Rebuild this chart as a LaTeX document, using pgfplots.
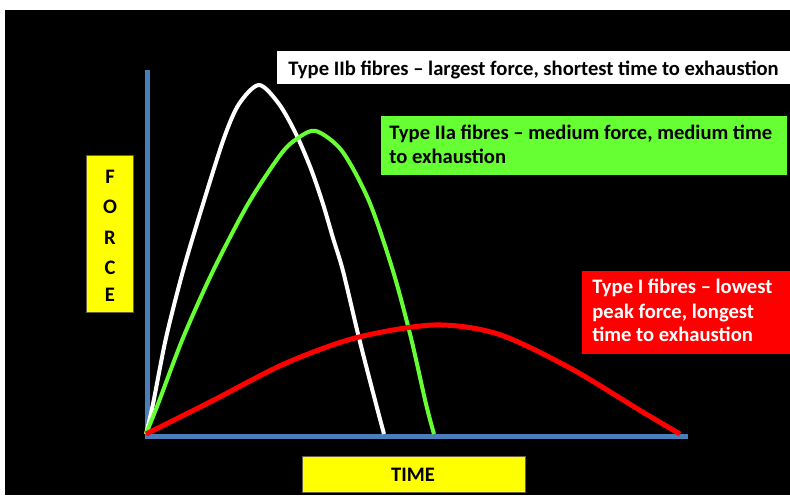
\documentclass[border=0pt]{standalone}
\usepackage{pgfplots}
\pgfplotsset{compat=1.18}
\usepackage{fontspec}
\setmainfont{Carlito}[BoldFont={Carlito Bold}]
\definecolor{axblue}{HTML}{4A7EBB}
\definecolor{fgreen}{HTML}{66FF33}
\definecolor{fred}{HTML}{FF0000}
\definecolor{fyellow}{HTML}{FFFF00}
\tikzset{lbl/.style={font=\fontsize{10.3}{12}\selectfont\bfseries, inner sep=0pt}}
\begin{document}
\begin{tikzpicture}
\begin{axis}[
  scale only axis, width=395pt, height=247.5pt,
  xmin=-146, xmax=644, ymin=-61, ymax=434,
  hide axis, clip=false,
]
% page and background
\fill[white] (axis cs:-146,434) rectangle (axis cs:644,-61);
\fill[black] (axis cs:-141,424) rectangle (axis cs:644,-61);
% axes lines
\addplot[axblue, line width=2.5pt] coordinates {(1,364) (1,-2)};
\addplot[axblue, line width=2.5pt] coordinates {(-1,-2) (542,-2)};
% Type IIb (white)
\addplot[white, line width=2pt, smooth] coordinates {
(0,0) (7,30) (20,96) (37,163) (57,230) (78,296) (93,330) (113,349) (133,330) (150,300) (165,265) (177,230) (187,196) (197,163) (213,96) (230,30) (238,0)};
% Type IIa (green)
\addplot[fgreen, line width=2pt, smooth] coordinates {
(0,0) (12,30) (37,96) (67,163) (102,230) (135,280) (152,296) (170,303) (196,283) (223,233) (247,163) (265,96) (280,30) (288,0)};
% Type I (red)
\addplot[fred, line width=2.5pt, smooth] coordinates {
(0,0) (66,33) (138,70) (209,96) (288,109) (352,100) (424,66) (495,23) (534,0)};
% label boxes
\fill[white] (axis cs:131,383) rectangle (axis cs:644,350);
\node[lbl, anchor=base west, text=black] at (axis cs:142,359) {Type IIb fibres – largest force, shortest time to exhaustion};
\fill[fgreen] (axis cs:235,318) rectangle (axis cs:641,259);
\node[lbl, anchor=base west, text=black] at (axis cs:243,295) {Type IIa fibres – medium force, medium time};
\node[lbl, anchor=base west, text=black] at (axis cs:243,271) {to exhaustion};
\fill[fred] (axis cs:436,163) rectangle (axis cs:644,80);
\node[lbl, anchor=base west, text=white] at (axis cs:446,141) {Type I fibres – lowest};
\node[lbl, anchor=base west, text=white] at (axis cs:446,116) {peak force, longest};
\node[lbl, anchor=base west, text=white] at (axis cs:446,93) {time to exhaustion};
% FORCE box
\filldraw[fill=fyellow, draw=black!70!yellow, line width=0.4pt] (axis cs:-60,279) rectangle (axis cs:-13,122);
\node[lbl, anchor=base, text=black] at (axis cs:-36,251) {F};
\node[lbl, anchor=base, text=black] at (axis cs:-36,221) {O};
\node[lbl, anchor=base, text=black] at (axis cs:-36,190) {R};
\node[lbl, anchor=base, text=black] at (axis cs:-36,160) {C};
\node[lbl, anchor=base, text=black] at (axis cs:-36,133) {E};
% TIME box
\filldraw[fill=fyellow, draw=black!70!yellow, line width=0.4pt] (axis cs:156,-22) rectangle (axis cs:379,-58);
\node[lbl, anchor=base, text=black] at (axis cs:267,-47) {TIME};
\end{axis}
\end{tikzpicture}
\end{document}
